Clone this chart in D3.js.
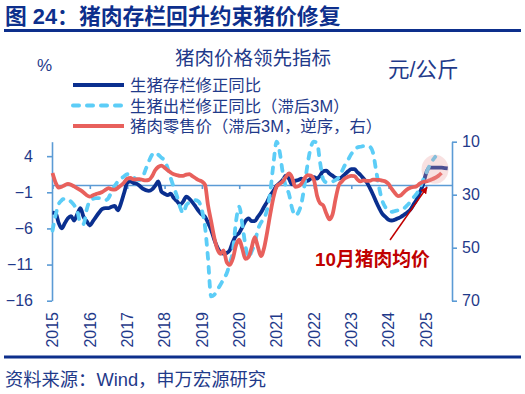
<!DOCTYPE html>
<html><head><meta charset="utf-8">
<script src="https://cdn.jsdelivr.net/npm/d3@7"></script>
<style>body{margin:0;background:#fff}svg{display:block}</style>
</head><body><svg id="c" width="525" height="394"></svg>
<script>
// ---- data (monthly, starting 2015-01) ----
const startYear = 2015, startMonth = 0;
const stockYoY = [-3.8,-3.9,-5.2,-6.0,-5.3,-4.6,-4.3,-4.9,-4.0,-3.2,-4.4,-5.0,
 -5.6,-5.0,-4.4,-3.8,-3.3,-3.2,-3.2,-3.0,-2.9,-3.5,-2.5,-1.1,
 0.3,0.5,0.3,0.2,-0.1,-0.5,-0.7,-0.8,-0.6,-0.1,0.5,-0.9,
 -1.2,-1.4,-1.2,-1.8,-2.2,-2.7,-2.3,-1.6,-1.9,-2.4,-3.0,-3.6,
 -4.1,-4.4,-5.2,-6.2,-7.5,-8.6,-9.3,-9.5,-9.4,-9.0,-7.8,-7.0,
 -6.6,-5.8,-5.0,-4.6,-5.0,-5.0,-4.4,-3.8,-3.0,-2.3,-1.4,-0.8,
 -0.1,0.3,0.7,1.3,0.9,0.1,0.6,0.7,0.9,0.6,0.6,0.9,
 1.1,0.9,1.3,1.9,2.0,1.6,1.3,1.0,0.9,1.1,1.5,1.9,
 2.2,2.2,1.8,1.4,0.9,0.4,-0.4,-1.3,-2.3,-3.2,-4.0,-4.4,
 -4.8,-4.9,-4.8,-4.6,-4.4,-4.1,-3.8,-3.4,-2.7,-2.0,-1.0,0.0,
 1.6,2.4,2.4,2.4,2.4,2.4,2.35,2.3];
const outYoY = [-6.3,-4.1,-2.7,-2.1,-1.9,-2.0,-2.3,-2.8,-3.6,-5.3,-5.4,-3.4,
 -2.2,-1.9,-1.8,-1.8,-2.0,-2.1,-1.8,-0.9,-0.1,0.5,0.9,1.2,
 1.5,1.4,1.1,0.8,0.7,1.1,2.2,3.3,4.2,4.5,4.2,3.8,
 3.4,2.3,1.0,-0.3,-1.5,-3.0,-3.9,-2.8,-2.4,-2.2,-2.1,-2.3,
 -3.5,-5.8,-10.0,-15.4,-15.2,-14.5,-13.8,-13.0,-12.2,-10.8,-9.0,-5.0,
 -3.0,-5.5,-8.3,-10.0,-9.2,-8.0,-6.2,-5.2,-4.6,-3.3,-0.8,3.0,
 6.0,4.5,1.8,-0.2,-1.2,-3.2,-4.2,-3.8,-2.5,0.0,3.0,5.2,
 6.0,5.8,3.2,0.8,0.4,0.4,0.5,0.7,1.1,1.9,2.8,3.5,
 4.3,4.8,5.2,5.3,5.4,5.4,5.3,4.5,2.0,-0.4,-2.2,-3.1,
 -3.6,-3.7,-3.6,-3.5,-3.4,-3.2,-2.8,-2.3,-1.7,-1.2,-0.4,0.6,
 1.6,2.6,3.3,3.9];
const porkPrice = [21.8,25.5,27.3,27.0,26.4,25.9,26.2,26.9,27.6,28.3,29.2,30.2,
 30.7,30.2,29.8,29.4,29.0,28.2,27.5,28.0,28.1,27.4,26.5,25.4,
 24.0,23.7,24.2,24.2,24.1,24.4,24.6,24.4,23.0,20.8,19.5,19.0,
 19.8,20.8,21.6,22.3,22.6,22.9,22.9,22.4,22.2,23.0,23.8,24.5,
 25.0,26.3,33.8,40.0,46.0,50.5,52.3,51.0,55.5,56.5,54.0,49.0,
 47.0,50.5,54.2,53.5,50.0,46.0,49.6,53.2,50.0,44.0,37.0,31.0,
 26.9,25.9,25.0,23.3,22.0,23.5,27.0,26.8,25.8,23.8,22.6,22.8,
 24.5,30.5,33.2,34.0,37.0,39.3,37.5,31.5,26.5,25.0,23.8,23.2,
 22.9,23.0,24.2,25.0,24.6,24.8,24.8,24.3,24.4,24.4,24.7,25.0,
 26.0,27.8,29.3,30.5,30.2,29.0,28.0,27.4,27.1,26.8,25.8,25.2,
 25.0,24.6,24.2,23.6,22.9,21.8];
const yearTicks = [2015,2016,2017,2018,2019,2020,2021,2022,2023,2024,2025];
const leftTicks = [4,-1,-6,-11,-16];
const rightTicks = [10,30,50,70];
const seriesNames = ["生猪存栏修正同比","生猪出栏修正同比（滞后3M）","猪肉零售价（滞后3M，逆序，右）"];

// ---- styles ----
const FONT = '"Liberation Sans", Arial, "Noto Sans CJK SC", sans-serif';
const NAVY = "#0d2f8c", TXT = "#1f3a8a", AX = "#5b9bd5";
const C_DARK = "#0a2f8f", C_LIGHT = "#5ccdf7", C_RED = "#e8605c", C_ANN = "#c00000";

const svg = d3.select("#c").style("font-family", FONT);
svg.append("rect").attr("width",525).attr("height",394).attr("fill","#fff");

const dateOf = i => new Date(startYear, startMonth + i, 1);
const x = d3.scaleTime().domain([new Date(2014,11,27), new Date(2025,8,12)]).range([52, 452]);
const yL = d3.scaleLinear().domain([-16, 6]).range([300.7, 141.7]);
const yR = d3.scaleLinear().domain([10, 70]).range([141.7, 300.7]);

// title & rules
svg.append("text").attr("x",5).attr("y",24).attr("font-size",21.8).attr("font-weight","bold")
  .attr("fill",NAVY).text("图 24：猪肉存栏回升约束猪价修复");
svg.append("rect").attr("x",4).attr("y",29).attr("width",517).attr("height",3).attr("fill",NAVY);
svg.append("rect").attr("x",4).attr("y",355.5).attr("width",517).attr("height",3).attr("fill",NAVY);
svg.append("text").attr("x",5).attr("y",386).attr("font-size",18.3).attr("fill",TXT)
  .text("资料来源：Wind，申万宏源研究");

// chart title & units
svg.append("text").attr("x",253).attr("y",65).attr("text-anchor","middle").attr("font-size",19.5)
  .attr("fill",TXT).text("猪肉价格领先指标");
svg.append("text").attr("x",37).attr("y",71).attr("font-size",17).attr("fill",TXT).text("%");
svg.append("text").attr("x",388).attr("y",76.5).attr("font-size",21.5).attr("fill",TXT).text("元/公斤");

// legend
const legY = [85, 105.5, 126];
const legStyles = [
  {c:C_DARK, dash:null},
  {c:C_LIGHT, dash:"6,8"},
  {c:C_RED, dash:null}
];
seriesNames.forEach((n,i)=>{
  svg.append("line").attr("x1",73).attr("x2",124).attr("y1",legY[i]).attr("y2",legY[i])
    .attr("stroke",legStyles[i].c).attr("stroke-width",4)
    .attr("stroke-linecap", legStyles[i].dash ? "round" : "butt")
    .attr("stroke-dasharray",legStyles[i].dash);
  svg.append("text").attr("x",130).attr("y",legY[i]+6).attr("font-size",16.4).attr("fill",TXT).text(n);
});

// axes
const gL = svg.append("g").attr("transform","translate(52,0)")
  .call(d3.axisLeft(yL).tickValues(leftTicks).tickSize(5).tickSizeOuter(0).tickPadding(14).tickFormat(d3.format("d")));
const gR = svg.append("g").attr("transform","translate(452,0)")
  .call(d3.axisRight(yR).tickValues(rightTicks).tickSize(5).tickSizeOuter(0).tickPadding(5));
const gX = svg.append("g").attr("transform",`translate(0,${yL(0)})`)
  .call(d3.axisBottom(x).tickValues(yearTicks.map(y=>new Date(y,0,1))).tickSize(4).tickSizeOuter(0).tickFormat(""));
[gL,gR,gX].forEach(g=>{
  g.select(".domain").attr("stroke",AX).attr("stroke-width",1.6);
  g.selectAll(".tick line").attr("stroke",AX).attr("stroke-width",1.6);
  g.selectAll("text").attr("fill",TXT).attr("font-size",16).attr("font-family",FONT);
});
// rotated year labels
svg.append("g").selectAll("text").data(yearTicks).join("text")
  .attr("transform", d=>`translate(${x(new Date(d,0,1))},312) rotate(-90)`)
  .attr("text-anchor","end").attr("dy","0.36em").attr("font-size",16).attr("fill",TXT)
  .text(d=>d);

// lines
const lineL = d3.line().x((d,i)=>x(dateOf(i))).y(d=>yL(d)).curve(d3.curveMonotoneX);
const lineR = d3.line().x((d,i)=>x(dateOf(i))).y(d=>yR(d)).curve(d3.curveMonotoneX);
svg.append("path").datum(stockYoY).attr("d",lineL).attr("fill","none")
  .attr("stroke",C_DARK).attr("stroke-width",3.8).attr("stroke-linejoin","round");
svg.append("path").datum(outYoY).attr("d",lineL).attr("fill","none")
  .attr("stroke",C_LIGHT).attr("stroke-width",3.8).attr("stroke-dasharray","6,8").attr("stroke-linecap","round");
svg.append("path").datum(porkPrice).attr("d",lineR).attr("fill","none")
  .attr("stroke",C_RED).attr("stroke-width",3.8).attr("stroke-linejoin","round");

// annotation
svg.append("ellipse").attr("cx",x(new Date(2025,2,30))).attr("cy",yL(2.2)).attr("rx",13.5).attr("ry",14.5)
  .attr("fill","#e79a9a").attr("fill-opacity",0.3);
const defs = svg.append("defs");
defs.append("marker").attr("id","ah").attr("viewBox","0 0 10 10").attr("refX",9).attr("refY",5)
  .attr("markerWidth",7).attr("markerHeight",7).attr("markerUnits","userSpaceOnUse").attr("orient","auto")
  .append("path").attr("d","M0,0L10,5L0,10z").attr("fill",C_ANN);
svg.append("line").attr("x1",x(new Date(2024,0,15))).attr("y1",yL(-7.6))
  .attr("x2",x(new Date(2025,0,10))).attr("y2",yL(-0.3))
  .attr("stroke",C_ANN).attr("stroke-width",1.5).attr("marker-end","url(#ah)");
svg.append("text").attr("x",315).attr("y",266).attr("font-size",18.8).attr("font-weight","bold")
  .attr("fill",C_ANN).text("10月猪肉均价");
</script></body></html>
